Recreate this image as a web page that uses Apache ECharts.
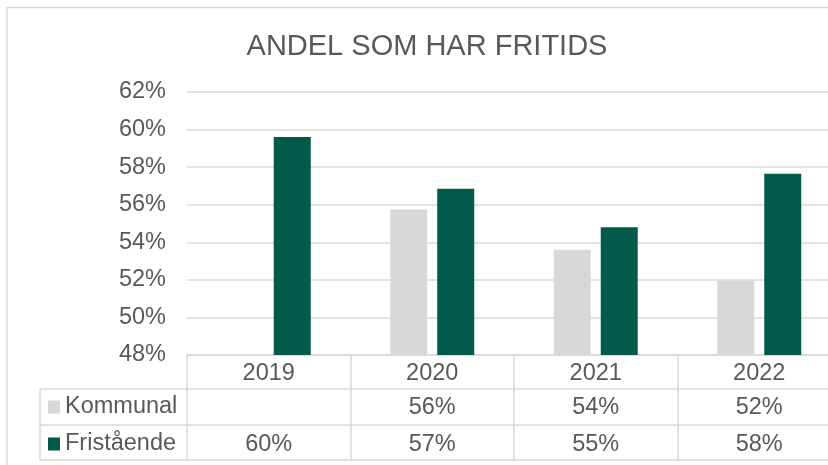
<!DOCTYPE html>
<html><head><meta charset="utf-8">
<script src="https://cdn.jsdelivr.net/npm/echarts@6/dist/echarts.min.js"></script>
<style>html,body{margin:0;padding:0;background:#fff}#c{width:828px;height:465px}</style>
</head><body><div id="c"></div>
<script>
// ---- data ----
const chartTitle = 'ANDEL SOM HAR FRITIDS';
const years = ['2019', '2020', '2021', '2022'];
const seriesNames = ['Kommunal', 'Fristående'];
const kommunal = [null, 55.75, 53.6, 51.95];
const fristaende = [59.6, 56.85, 54.8, 57.65];
const kommunalLabels = ['', '56%', '54%', '52%'];
const fristaendeLabels = ['60%', '57%', '55%', '58%'];
const yMin = 48, yMax = 62, yStep = 2;

// ---- style / layout ----
const FONT = "'Liberation Sans', Arial, sans-serif";
const TXT = '#595959';
const LINE = '#d9d9d9';
const COLORS = ['#D9D7D8', '#03594A'];
const G = { left: 187, top: 92, width: 654, height: 263 };
const gridBottomY = G.top + G.height;
const tableLeft = 40;
const rowLines = [389, 425, 460];

const chart = echarts.init(document.getElementById('c'), null, { renderer: 'canvas' });

const labelStyle = { color: TXT, fontSize: 23.5, fontFamily: FONT };

const lines = [];
rowLines.forEach(y => lines.push({ type: 'line', shape: { x1: tableLeft, y1: y, x2: 900, y2: y }, style: { stroke: LINE, lineWidth: 1.5 }, silent: true }));
lines.push({ type: 'line', shape: { x1: tableLeft, y1: rowLines[0], x2: tableLeft, y2: rowLines[rowLines.length - 1] }, style: { stroke: LINE, lineWidth: 1.5 }, silent: true });
lines.push({ type: 'rect', shape: { x: 7, y: 7.5, width: 1000, height: 600 }, style: { stroke: LINE, fill: null, lineWidth: 1.5 }, silent: true });

chart.setOption({
  animation: false,
  backgroundColor: '#fff',
  color: COLORS,
  title: {
    text: chartTitle, left: 422, top: 27, textAlign: 'center',
    textStyle: { color: TXT, fontSize: 29, fontWeight: 'normal', fontFamily: FONT }
  },
  legend: {
    data: seriesNames, orient: 'vertical', left: 48, top: 395, itemGap: 13, padding: 0,
    icon: 'rect', itemWidth: 12, itemHeight: 13, selectedMode: false,
    textStyle: labelStyle
  },
  grid: { left: G.left, top: G.top, width: G.width, height: G.height, containLabel: false, outerBoundsMode: 'none' },
  xAxis: [
    {
      type: 'category', data: years, position: 'bottom',
      axisLine: { show: true, lineStyle: { color: LINE, width: 1.5 } },
      axisTick: { show: true, length: rowLines[rowLines.length - 1] - gridBottomY, interval: 0, lineStyle: { color: LINE, width: 1.5 } },
      axisLabel: Object.assign({ margin: 7, interval: 0 }, labelStyle)
    },
    {
      type: 'category', data: years, position: 'bottom', offset: 35,
      axisLine: { show: false }, axisTick: { show: false },
      axisLabel: Object.assign({ margin: 6, interval: 0, formatter: (v, i) => kommunalLabels[i] }, labelStyle)
    },
    {
      type: 'category', data: years, position: 'bottom', offset: 72,
      axisLine: { show: false }, axisTick: { show: false },
      axisLabel: Object.assign({ margin: 6, interval: 0, formatter: (v, i) => fristaendeLabels[i] }, labelStyle)
    }
  ],
  yAxis: {
    type: 'value', min: yMin, max: yMax, interval: yStep,
    axisLine: { show: false }, axisTick: { show: false },
    axisLabel: Object.assign({ margin: 21, formatter: '{value}%', padding: [5, 0, 0, 0] }, labelStyle),
    splitLine: { show: true, lineStyle: { color: LINE, width: 1.5 } }
  },
  graphic: lines,
  series: [
    { name: seriesNames[0], type: 'bar', xAxisIndex: 0, data: kommunal, barWidth: 37, barGap: '27%' },
    { name: seriesNames[1], type: 'bar', xAxisIndex: 0, data: fristaende, barWidth: 37, barGap: '27%' }
  ]
});
</script>
</body></html>
